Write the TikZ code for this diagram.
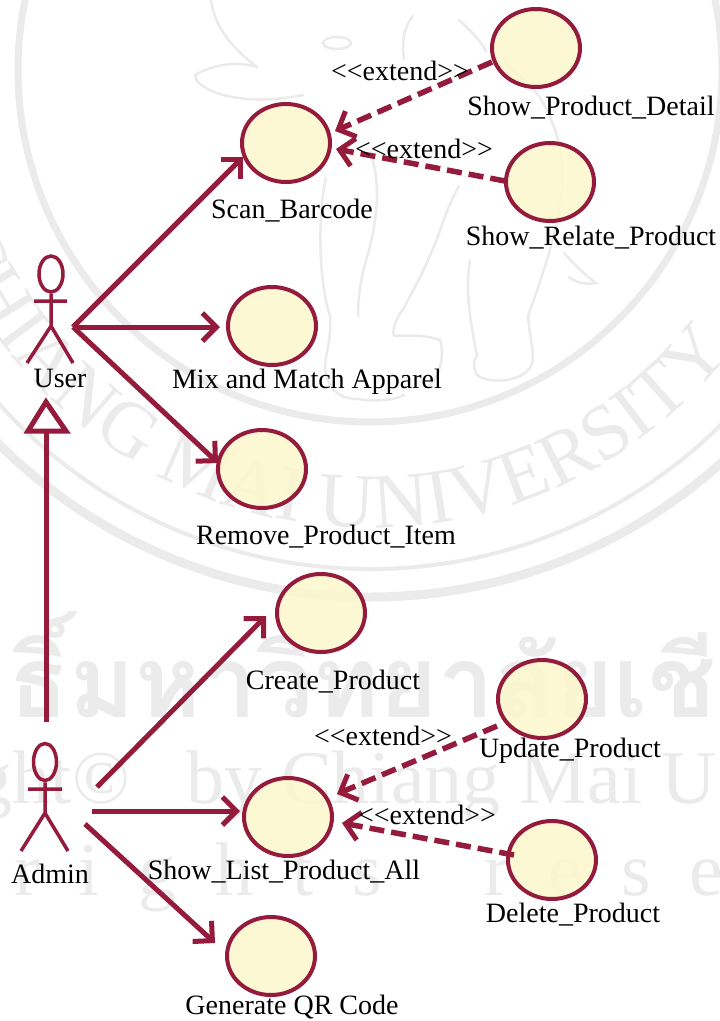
\documentclass[tikz,border=0pt]{standalone}
\usepackage{fontspec}
\setmainfont{Liberation Serif}
\newfontfamily\thaifont[Script=Thai]{Loma}
\usetikzlibrary{arrows.meta,decorations.text,shapes.geometric}
\definecolor{umlred}{HTML}{951B3C}
\definecolor{ucfill}{HTML}{FBF7CC}
\definecolor{wm}{HTML}{EBEBEB}
\tikzset{
  x=1pt,y=-1pt,
  usecase/.style={ellipse,draw=umlred,line width=4pt,fill=ucfill,fill opacity=.85,draw opacity=1,minimum width=88pt,minimum height=78pt,inner sep=0pt},
  lab/.style={font=\fontsize{28}{30}\selectfont,inner sep=0pt,text=black},
  stereo/.style={font=\fontsize{28}{30}\selectfont,inner sep=0pt,text=black},
  assoc/.style={draw=umlred,line width=5pt,-{Straight Barb[length=14pt,width=28pt,line width=5pt]}},
  ext/.style={draw=umlred,line width=5.5pt,dash pattern=on 15pt off 7pt,-{Straight Barb[length=14pt,width=28pt,line width=5pt]}},
  actorline/.style={draw=umlred,line width=3.5pt},
  genline/.style={draw=umlred,line width=5pt},
  wmline/.style={draw=wm,line width=9pt},
  wmthin/.style={draw=wm,line width=4pt},
  wmele/.style={draw=wm,line width=2.5pt,line cap=round},
  wmtxt/.style={text=wm,inner sep=0pt,font=\fontsize{76}{80}\selectfont},
}
\begin{document}
\begin{tikzpicture}
\useasboundingbox (0,0) rectangle (720,1021);
\fill[white] (0,0) rectangle (720,1021);
% watermark
\draw[wmline] (370,70) circle[radius=527];
\draw[wmthin] (370,70) circle[radius=499];
\draw[wmline,line width=7pt] (370,70) circle[radius=352];
\path[decorate,decoration={text along path,text align=right,
  text={|\fontsize{78}{80}\selectfont\color{wm}|CHIANG MAI UNIVERSITY}}]
  (370,70) ++(175:458) arc[start angle=175,end angle=38,radius=458];
% elephant
\draw[wmele] (211,0) .. controls (215,30) and (235,50) .. (257,67);
\draw[wmele] (195,75) .. controls (195,90) and (240,108) .. (303,95);
\draw[wmele] (195,75) .. controls (210,66) and (235,60) .. (257,67);
\draw[wmele] (337,43) ellipse[x radius=14,y radius=6];
\draw[wmele] (413,16) .. controls (402,30) and (402,45) .. (404,59);
\draw[wmele] (459,20) .. controls (470,30) and (480,40) .. (486,51);
\draw[wmele] (505,63) .. controls (525,80) and (535,90) .. (541,99) .. controls (555,125) and (565,150) .. (562,190) .. controls (560,220) and (545,270) .. (528,316) .. controls (530,340) and (535,355) .. (532,364);
\draw[wmele] (532,364) .. controls (525,382) and (490,385) .. (477,375) .. controls (472,365) and (474,360) .. (477,356);
\draw[wmele] (477,356) .. controls (470,320) and (465,290) .. (470,260);
\draw[wmele] (326,178) .. controls (318,210) and (318,280) .. (330,316) .. controls (332,345) and (322,360) .. (326,375) .. controls (332,395) and (345,399) .. (358,399) .. controls (375,402) and (395,400) .. (404,395);
\draw[wmele] (372,158) .. controls (382,190) and (375,230) .. (367,257) .. controls (360,280) and (358,300) .. (358,316);
\draw[wmele] (459,186) .. controls (445,210) and (440,235) .. (431,253) .. controls (420,280) and (410,295) .. (404,308) .. controls (395,320) and (392,330) .. (394,336);
\draw[wmele] (394,336) .. controls (410,335) and (425,335) .. (440,340) .. controls (445,355) and (440,375) .. (430,385);
\draw[wmele] (564,253) .. controls (575,265) and (585,275) .. (596,283) .. controls (585,285) and (575,282) .. (569,277);
\node[wmtxt,font=\thaifont\bfseries\fontsize{100}{110}\selectfont] (wmth) at (362,665) {ธิ์มหาวิทยาลัยเชี};
\node[wmtxt,anchor=base east] (wmcp) at (130,803) {ght©};
\node[wmtxt,anchor=base west] (wmcu) at (186,803) {by Chiang Mai U};
\node[wmtxt,anchor=base west] (wmrr) at (14,895) {\spaceskip=39pt\relax r i g h t s};
\node[wmtxt,anchor=base west] (wmre) at (484,895) {\spaceskip=39pt\relax r e s e};
% use cases
\node[usecase] (scan) at (286,143) {};
\node[usecase] (detail) at (536,48) {};
\node[usecase] (relate) at (550,182) {};
\node[usecase] (mix) at (272,326) {};
\node[usecase] (remove) at (262,469) {};
\node[usecase] (create) at (321,613) {};
\node[usecase] (update) at (542,699) {};
\node[usecase] (list) at (288,817) {};
\node[usecase] (delete) at (552,860) {};
\node[usecase] (qr) at (271,956) {};
% labels
\node[lab] (l1) at (292,211) {Scan\_Barcode};
\node[lab] (l2) at (591,108) {Show\_Product\_Detail};
\node[lab] (l3) at (591,238) {Show\_Relate\_Product};
\node[lab] (l4) at (307,382) {Mix and Match Apparel};
\node[lab] (l5) at (326,537) {Remove\_Product\_Item};
\node[lab] (l6) at (333,682) {Create\_Product};
\node[lab] (l7) at (570,751) {Update\_Product};
\node[lab] (l8) at (284,872) {Show\_List\_Product\_All};
\node[lab] (l9) at (573,915) {Delete\_Product};
\node[lab] (l10) at (292,1007) {Generate QR Code};
\node[lab] (l11) at (60,378) {User};
\node[lab] (l12) at (50,874) {Admin};
% actors
\coordinate (uhub) at (73,327);
\coordinate (aA) at (97,787);
\coordinate (aB) at (92,811);
\coordinate (aC) at (85,824);
\node[ellipse,actorline,minimum width=24pt,minimum height=36pt,inner sep=0pt] (uhead) at (51,274) {};
\coordinate (uhip) at (51,326);
\coordinate (ular) at (34,301); \coordinate (urar) at (67,301);
\coordinate (ulf) at (27,363); \coordinate (urf) at (73,363);
\draw[actorline] (uhead.south) -- (uhip) (ular) -- (urar) (ulf) -- (uhip) -- (urf);
\node[ellipse,actorline,minimum width=23pt,minimum height=37pt,inner sep=0pt] (ahead) at (45,762) {};
\coordinate (ahip) at (45,813);
\coordinate (alar) at (28,789); \coordinate (arar) at (62,789);
\coordinate (alf) at (21,851); \coordinate (arf) at (68,851);
\draw[actorline] (ahead.south) -- (ahip) (alar) -- (arar) (alf) -- (ahip) -- (arf);
% associations
\coordinate (tScan) at (243,157);
\coordinate (tMix) at (220,327);
\coordinate (tRem) at (218,463);
\coordinate (tCre) at (266,616);
\coordinate (tList) at (240,811);
\coordinate (tQr) at (215,943);
\draw[assoc] (uhub) -- (tScan);
\draw[assoc] (uhub) -- (tMix);
\draw[assoc] (uhub) -- (tRem);
\draw[assoc] (aA) -- (tCre);
\draw[assoc] (aB) -- (tList);
\draw[assoc] (aC) -- (tQr);
% extend
\coordinate (e1) at (335,131);
\coordinate (e2) at (336,149);
\coordinate (e3) at (337,794);
\coordinate (e4) at (342,823);
\coordinate (s1) at (492,62);
\coordinate (s2) at (505,181);
\coordinate (s3) at (497,726);
\coordinate (s4) at (514,855);
\draw[ext] (s1) -- (e1);
\draw[ext] (s2) -- (e2);
\draw[ext] (s3) -- (e3);
\draw[ext] (s4) -- (e4);
\node[stereo] (x1) at (400,71) {<{}<extend>{}>};
\node[stereo] (x2) at (424,149) {<{}<extend>{}>};
\node[stereo] (x3) at (383,736) {<{}<extend>{}>};
\node[stereo] (x4) at (427,815) {<{}<extend>{}>};
% generalization
\coordinate (gapex) at (46,402);
\coordinate (gl) at (28,431); \coordinate (gr) at (66,431);
\coordinate (gs) at (46,722); \coordinate (gb) at (46,431);
\draw[genline,miter limit=10] (gapex) -- (gl) -- (gr) -- cycle;
\draw[genline] (gs) -- (gb);
\end{tikzpicture}
\end{document}
